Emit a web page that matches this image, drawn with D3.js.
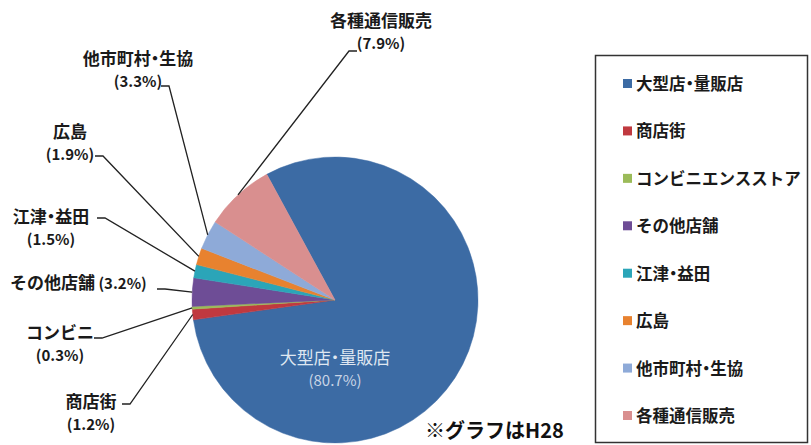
<!DOCTYPE html>
<html>
<head>
<meta charset="utf-8">
<script src="https://cdn.jsdelivr.net/npm/d3@7"></script>
<style>
	body { margin: 0; background: #fff; }
	svg { display: block; }
	.dot { font-feature-settings: "palt"; }
</style>
</head>
<body>
<div class="pie-chart"></div>
<script>
var categories = ['大型店・量販店', '商店街', 'コンビニエンスストア', 'その他店舗', '江津・益田', '広島', '他市町村・生協', '各種通信販売'];
var shortNames = ['大型店・量販店', '商店街', 'コンビニ', 'その他店舗', '江津・益田', '広島', '他市町村・生協', '各種通信販売'];
var shares = [80.7, 1.2, 0.3, 3.2, 1.5, 1.9, 3.3, 7.9];
var colors = ['#3c6ba4', '#c0393f', '#9bbb59', '#6e4d96', '#2ba5b8', '#e8822f', '#8eaad8', '#d98f8f'];
var noteText = '※グラフはH28';

var fontFamily = '"Noto Sans CJK JP", "Noto Sans", sans-serif',
	textColor = '#1a1a1a',
	lineColor = '#222';

var width = 811, height = 445;
var cx = 335, cy = 300, radius = 143;

// label placement: name centre x, name baseline y, leader start (lx, ly), elbow direction
var labelLayout = [
	null,
	{x: 91, y: 408, lx: 122, ly: 404, dir: 1},
	{x: 60, y: 339, lx: 94, ly: 338, dir: 1},
	{x: 10, y: 289, lx: 157, ly: 289, dir: 1, single: true},
	{x: 51, y: 223, lx: 97, ly: 218, dir: 1},
	{x: 70, y: 138, lx: 95, ly: 156, dir: 1},
	{x: 138, y: 65, lx: 161, ly: 86, dir: 1},
	{x: 381, y: 27, lx: 357, ly: 51, dir: -1}
];

var svg = d3.select('.pie-chart').append('svg')
	.attr('width', width)
	.attr('height', height)
	.attr('font-family', fontFamily);

// write a string; the middle dot gets proportional width so it reads narrow
function addText(sel, str, x, y) {
	var parts = str.split('・');
	sel.append('tspan').attr('x', x).attr('y', y).text(parts[0]);
	for (var k = 1; k < parts.length; k++) {
		sel.append('tspan').attr('class', 'dot').text('・');
		sel.append('tspan').text(parts[k]);
	}
}

var startOffset = -28.5 * Math.PI / 180;
var pie = d3.pie().sort(null).value(function(d) { return d; })
	.startAngle(startOffset)
	.endAngle(startOffset + 2 * Math.PI);
var arc = d3.arc().innerRadius(0).outerRadius(radius);
var arcs = pie(shares);

var g = svg.append('g').attr('transform', 'translate(' + cx + ',' + cy + ')');
g.selectAll('path.slice')
	.data(arcs)
	.enter().append('path')
	.attr('class', 'slice')
	.attr('d', arc)
	.attr('fill', function(d, i) { return colors[i]; })
	.attr('stroke', function(d, i) { return colors[i]; })
	.attr('stroke-width', 0.5);

// big slice label inside
var inner = g.append('text')
	.attr('text-anchor', 'middle')
	.attr('font-size', '17px')
	.attr('fill', '#dfe7f1');
addText(inner, shortNames[0], 0, 64);
g.append('text')
	.attr('x', 0)
	.attr('y', 86)
	.attr('text-anchor', 'middle')
	.attr('font-size', '15px')
	.attr('fill', '#c9d5e6')
	.text('(' + shares[0].toFixed(1) + '%)');

// outside labels with leader lines
arcs.forEach(function(d, i) {
	var lay = labelLayout[i];
	if (!lay) return;
	var mid = (d.startAngle + d.endAngle) / 2;
	var ex = cx + radius * Math.sin(mid),
		ey = cy - radius * Math.cos(mid);
	var pct = '(' + shares[i].toFixed(1) + '%)';
	if (lay.single) {
		var t1 = svg.append('text')
			.attr('font-weight', 'bold')
			.attr('fill', textColor)
			.attr('text-anchor', 'start');
		t1.append('tspan').attr('x', lay.x).attr('y', lay.y).attr('font-size', '17px').text(shortNames[i]);
		t1.append('tspan').attr('font-size', '15px').text(' ' + pct);
	} else {
		var tn = svg.append('text')
			.attr('font-size', '17px')
			.attr('font-weight', 'bold')
			.attr('fill', textColor)
			.attr('text-anchor', 'middle');
		addText(tn, shortNames[i], lay.x, lay.y);
		svg.append('text')
			.attr('x', lay.x)
			.attr('y', lay.y + 22)
			.attr('font-size', '15px')
			.attr('font-weight', 'bold')
			.attr('fill', textColor)
			.attr('text-anchor', 'middle')
			.text(pct);
	}
	var kx = lay.lx + lay.dir * 8;
	svg.append('path')
		.attr('d', 'M' + lay.lx + ',' + lay.ly + 'L' + kx + ',' + lay.ly + 'L' + ex + ',' + ey)
		.attr('fill', 'none')
		.attr('stroke', lineColor)
		.attr('stroke-width', 1.3);
});

// legend
var legend = svg.append('g');
legend.append('rect')
	.attr('x', 595.5)
	.attr('y', 55.5)
	.attr('width', 212)
	.attr('height', 387)
	.attr('fill', '#fff')
	.attr('stroke', '#333')
	.attr('stroke-width', 1.5);
var ly = d3.scalePoint().domain(categories).range([83, 415]);
var rows = legend.selectAll('g.row')
	.data(categories)
	.enter().append('g')
	.attr('class', 'row')
	.attr('transform', function(d) { return 'translate(623,' + ly(d) + ')'; });
rows.append('rect')
	.attr('x', 0)
	.attr('y', -4)
	.attr('width', 9)
	.attr('height', 9)
	.attr('fill', function(d, i) { return colors[i]; });
rows.each(function(d) {
	var t = d3.select(this).append('text')
		.attr('font-size', '16.5px')
		.attr('font-weight', 'bold')
		.attr('fill', textColor);
	addText(t, d, 13, 7);
});

svg.append('text')
	.attr('x', 425)
	.attr('y', 438)
	.attr('font-size', '20px')
	.attr('font-weight', 'bold')
	.attr('fill', '#111')
	.text(noteText);
</script>
</body>
</html>
